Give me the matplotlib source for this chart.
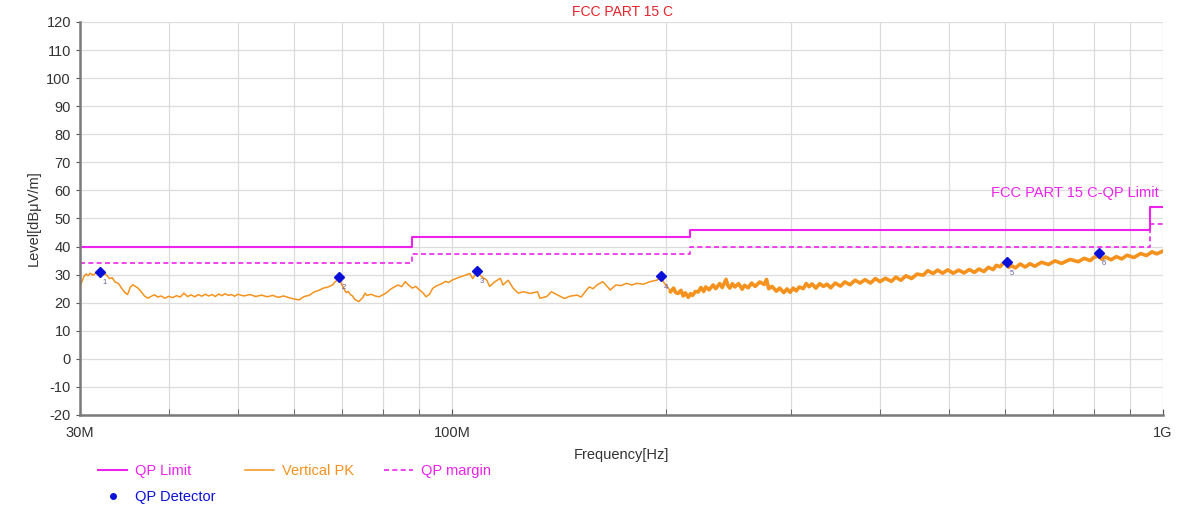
import matplotlib
matplotlib.use("Agg")
import matplotlib.pyplot as plt
from matplotlib.lines import Line2D
from matplotlib.ticker import FixedLocator, NullFormatter

plt.rcParams['font.family'] = ['Liberation Sans', 'DejaVu Sans']
plt.rcParams['axes.unicode_minus'] = False

# ---------------- data ----------------
limit_freq = [30, 88, 216, 960, 1000]          # MHz
limit_level = [40, 43.5, 46, 54, 54]           # dBuV/m
margin_level = [34, 37.5, 40, 48, 48]

trace_freq = [
    30.0, 30.2, 30.4, 30.6, 30.8, 31.0, 31.3, 31.6, 32.0, 32.3, 32.6, 33.0, 33.3, 33.6,
    34.0, 34.3, 34.7, 35.0, 35.3, 35.6, 35.9, 36.2, 36.6, 37.0, 37.4, 37.8, 38.2, 38.6,
    39.0, 39.5, 40.0, 40.5, 41.0, 41.5, 42.0, 42.5, 43.0, 43.5, 44.0, 44.5, 45.0, 45.5,
    46.0, 46.5, 47.0, 47.5, 48.0, 48.5, 49.0, 49.5, 50.0, 51.0, 52.0, 53.0, 54.0, 55.0,
    56.0, 57.0, 58.0, 59.0, 60.0, 61.0, 62.0, 63.0, 64.0, 65.0, 66.0, 67.0, 68.0, 68.5,
    69.0, 69.5, 70.0, 70.5, 71.0, 71.5, 72.0, 72.5, 73.0, 73.5, 74.0, 75.0, 75.5, 76.0,
    77.0, 78.0, 79.0, 80.0, 81.0, 82.0, 83.0, 84.0, 85.0, 86.0, 87.0, 88.0, 89.0, 90.0,
    91.0, 92.0, 93.0, 94.0, 95.0, 96.0, 97.0, 98.0, 99.0, 100.0, 102.0, 104.0, 106.0, 107.0,
    108.5, 110.0, 112.0, 113.0, 115.0, 117.0, 118.0, 120.0, 122.0, 124.0, 126.0, 129.0, 132.0, 133.0,
    136.0, 138.0, 141.0, 144.0, 146.5, 150.0, 152.0, 154.0, 156.0, 158.0, 160.0, 163.0, 165.5, 167.0,
    170.0, 173.0, 176.0, 179.0, 182.0, 186.0, 190.0, 194.0, 197.0, 199.0, 201.0, 203.0,
    205, 206.5, 208, 210, 211.5, 213, 215, 216.5, 218, 220, 222, 224, 226, 227.5, 230, 233,
    235, 238, 240, 243, 244.5, 246, 248, 250, 253, 256, 258, 261, 264, 267, 271, 275, 277,
    279, 282, 286, 289, 293, 296, 299, 302, 305, 308, 312, 315, 318, 321, 325, 329, 333,
    337, 341, 346, 352, 357, 363, 369, 375, 381, 388, 394, 400, 407, 415, 421, 428, 435,
    443, 451, 460, 467, 475, 482, 490, 498, 507, 516, 525, 534, 543, 551, 560, 568, 577,
    583, 590, 596, 603, 607, 612, 620, 630, 640, 650, 660, 675, 690, 705, 720, 740, 760,
    775, 790, 800, 812, 820, 830, 845, 860, 875, 890, 910, 930, 948, 965, 980, 1000,
]
trace_level = [
    26.0, 27.5, 29.5, 30.2, 29.6, 30.5, 29.8, 30.6, 30.8, 30.1, 30.2, 28.6, 28.9, 27.4,
    26.8, 25.3, 23.6, 22.9, 25.5, 26.4, 25.8, 25.2, 23.8, 22.3, 21.6, 22.3, 22.8, 22.0,
    22.4, 21.6, 22.3, 21.8, 22.5, 22.0, 23.4, 22.2, 22.8, 22.1, 22.9, 22.3, 23.0, 22.4,
    22.9, 22.2, 23.1, 22.5, 23.2, 22.6, 22.9, 22.3, 23.0, 22.4, 22.9, 22.2, 22.7, 22.1,
    22.6, 21.9, 22.4, 21.8, 21.3, 21.0, 22.2, 22.6, 23.8, 24.4, 25.2, 25.6, 26.4, 27.4,
    28.0, 28.8, 26.5, 25.0, 23.6, 24.0, 22.9, 22.4, 21.2, 20.8, 20.4, 21.9, 23.4, 22.6,
    23.0, 22.4, 22.1, 22.8, 23.6, 24.8, 25.6, 26.3, 25.7, 27.5, 26.2, 25.2, 25.8, 24.6,
    23.6, 22.1, 23.0, 25.1, 25.9, 26.4, 26.9, 27.6, 27.2, 28.0, 28.9, 29.6, 30.4, 28.6,
    31.0, 29.4, 28.0, 25.8, 27.5, 28.7, 26.3, 28.0, 25.1, 23.4, 23.9, 23.3, 23.9, 21.6,
    22.2, 23.9, 22.7, 21.5, 22.3, 22.7, 22.0, 23.9, 25.6, 25.0, 26.3, 27.5, 25.7, 24.5,
    26.3, 26.1, 26.9, 26.3, 26.9, 26.6, 27.5, 28.0, 29.0, 26.9, 25.7, 23.9,
    25.2, 23.6, 23.3, 24.4, 22.4, 23.5, 21.9, 23.2, 22.6, 24.0, 23.8, 25.4, 24.0, 25.6, 24.6, 26.3,
    25.0, 26.8, 25.4, 28.3, 26.0, 25.2, 26.8, 25.6, 26.8, 24.8, 26.2, 25.3, 27.0, 25.8, 27.4, 26.5, 28.3,
    25.0, 25.8, 24.1, 25.2, 23.6, 24.9, 23.7, 25.2, 24.2, 25.6, 25.0, 26.8, 25.7, 26.7, 25.2, 26.8, 25.8,
    26.6, 25.3, 27.0, 25.9, 27.4, 26.4, 28.0, 27.0, 28.2, 27.0, 28.6, 27.5, 28.7, 27.6, 29.1, 28.0, 29.6,
    28.6, 30.2, 29.8, 31.4, 30.4, 31.6, 30.5, 31.7, 30.5, 31.6, 30.6, 31.8, 30.8, 32.0, 31.1, 32.6, 31.8,
    33.3, 32.8, 34.0, 34.2, 32.6, 33.2, 32.4, 33.8, 32.7, 33.9, 33.0, 34.4, 33.6, 34.9, 34.0, 35.4, 34.6,
    35.8, 35.0, 36.2, 36.6, 35.5, 36.3, 35.3, 36.4, 35.6, 36.9, 36.1, 37.5, 36.8, 38.1, 37.4, 38.4,
]

det_freq = [32.0, 69.4, 108.5, 196.6, 603.0, 812.7]
det_level = [31.0, 29.3, 31.3, 29.5, 34.4, 37.8]
det_labels = ["1", "2", "3", "4", "5", "6"]

x_tick_vals = [30, 100, 1000]
x_tick_labels = ["30M", "100M", "1G"]
x_minor_vals = [40, 50, 60, 70, 80, 90, 200, 300, 400, 500, 600, 700, 800, 900]
y_ticks = list(range(-20, 121, 10))

# ---------------- figure ----------------
MAG = '#ee22ee'
ORG = '#f5921e'
BLUE = '#0a10d8'

fig = plt.figure(figsize=(11.83, 5.11), dpi=100)
ax = fig.add_axes([0.0676, 0.1879, 0.9155, 0.7691])

ax.set_xscale('log')
ax.set_xlim(30, 1000)
ax.set_ylim(-20, 120)

ax.xaxis.set_major_locator(FixedLocator(x_tick_vals))
ax.set_xticklabels(x_tick_labels)
ax.xaxis.set_minor_locator(FixedLocator(x_minor_vals))
ax.xaxis.set_minor_formatter(NullFormatter())
ax.set_yticks(y_ticks)

ax.grid(True, which='both', color='#dcdcdc', linewidth=0.9)
ax.set_axisbelow(True)

for s in ['top', 'right']:
    ax.spines[s].set_visible(False)
for s in ['left', 'bottom']:
    ax.spines[s].set_color('#7a7a7a')
    ax.spines[s].set_linewidth(1.8)

ax.tick_params(axis='x', which='both', direction='in', length=4, color='#555555',
               labelsize=10.5, pad=8, labelcolor='#333333')
ax.tick_params(axis='y', which='major', direction='out', length=3, color='#555555',
               labelsize=10.5, labelcolor='#333333')

# limit & margin
l_lim, = ax.plot(limit_freq, limit_level, drawstyle='steps-post', color=MAG, lw=1.5,
                 label='QP Limit')
l_mar, = ax.plot(limit_freq, margin_level, drawstyle='steps-post', color=MAG, lw=1.2,
                 linestyle=(0, (3, 2)), label='QP margin')

# trace
l_tr, = ax.plot(trace_freq, trace_level, color=ORG, lw=1.1, label='Vertical PK')
hi_f = [f for f in trace_freq if f >= 203]
hi_l = [v for f, v in zip(trace_freq, trace_level) if f >= 203]
ax.plot(hi_f, hi_l, color=ORG, lw=2.6)

# detector
ax.plot(det_freq, det_level, linestyle='none', marker='D', markersize=5.5, color=BLUE)
for f, v, t in zip(det_freq, det_level, det_labels):
    ax.annotate(t, (f, v), xytext=(2, -9), textcoords='offset points',
                fontsize=5.5, color='#6a5a9a')
l_det = Line2D([], [], linestyle='none', marker='o', markersize=4, color=BLUE,
               label='QP Detector')

# texts
fig.text(0.5258, 0.976, 'FCC PART 15 C', color='#e8232a', fontsize=10,
         ha='center', va='center')
ax.text(985, 59, 'FCC PART 15 C-QP Limit', color=MAG, fontsize=10.5,
        ha='right', va='center')
ax.set_xlabel('Frequency[Hz]', fontsize=10.5, color='#333333', labelpad=6)
ax.set_ylabel('Level[dBμV/m]', fontsize=10.5, color='#333333', labelpad=4)

fig.legend(handles=[l_lim, l_det, l_tr, l_mar], loc='upper left',
           bbox_to_anchor=(0.072, 0.118), ncol=3, frameon=False, fontsize=10.5,
           labelcolor='linecolor', handlelength=2.0, columnspacing=2.0,
           handletextpad=0.55, labelspacing=0.85)

fig.savefig('out.png', dpi=100)
